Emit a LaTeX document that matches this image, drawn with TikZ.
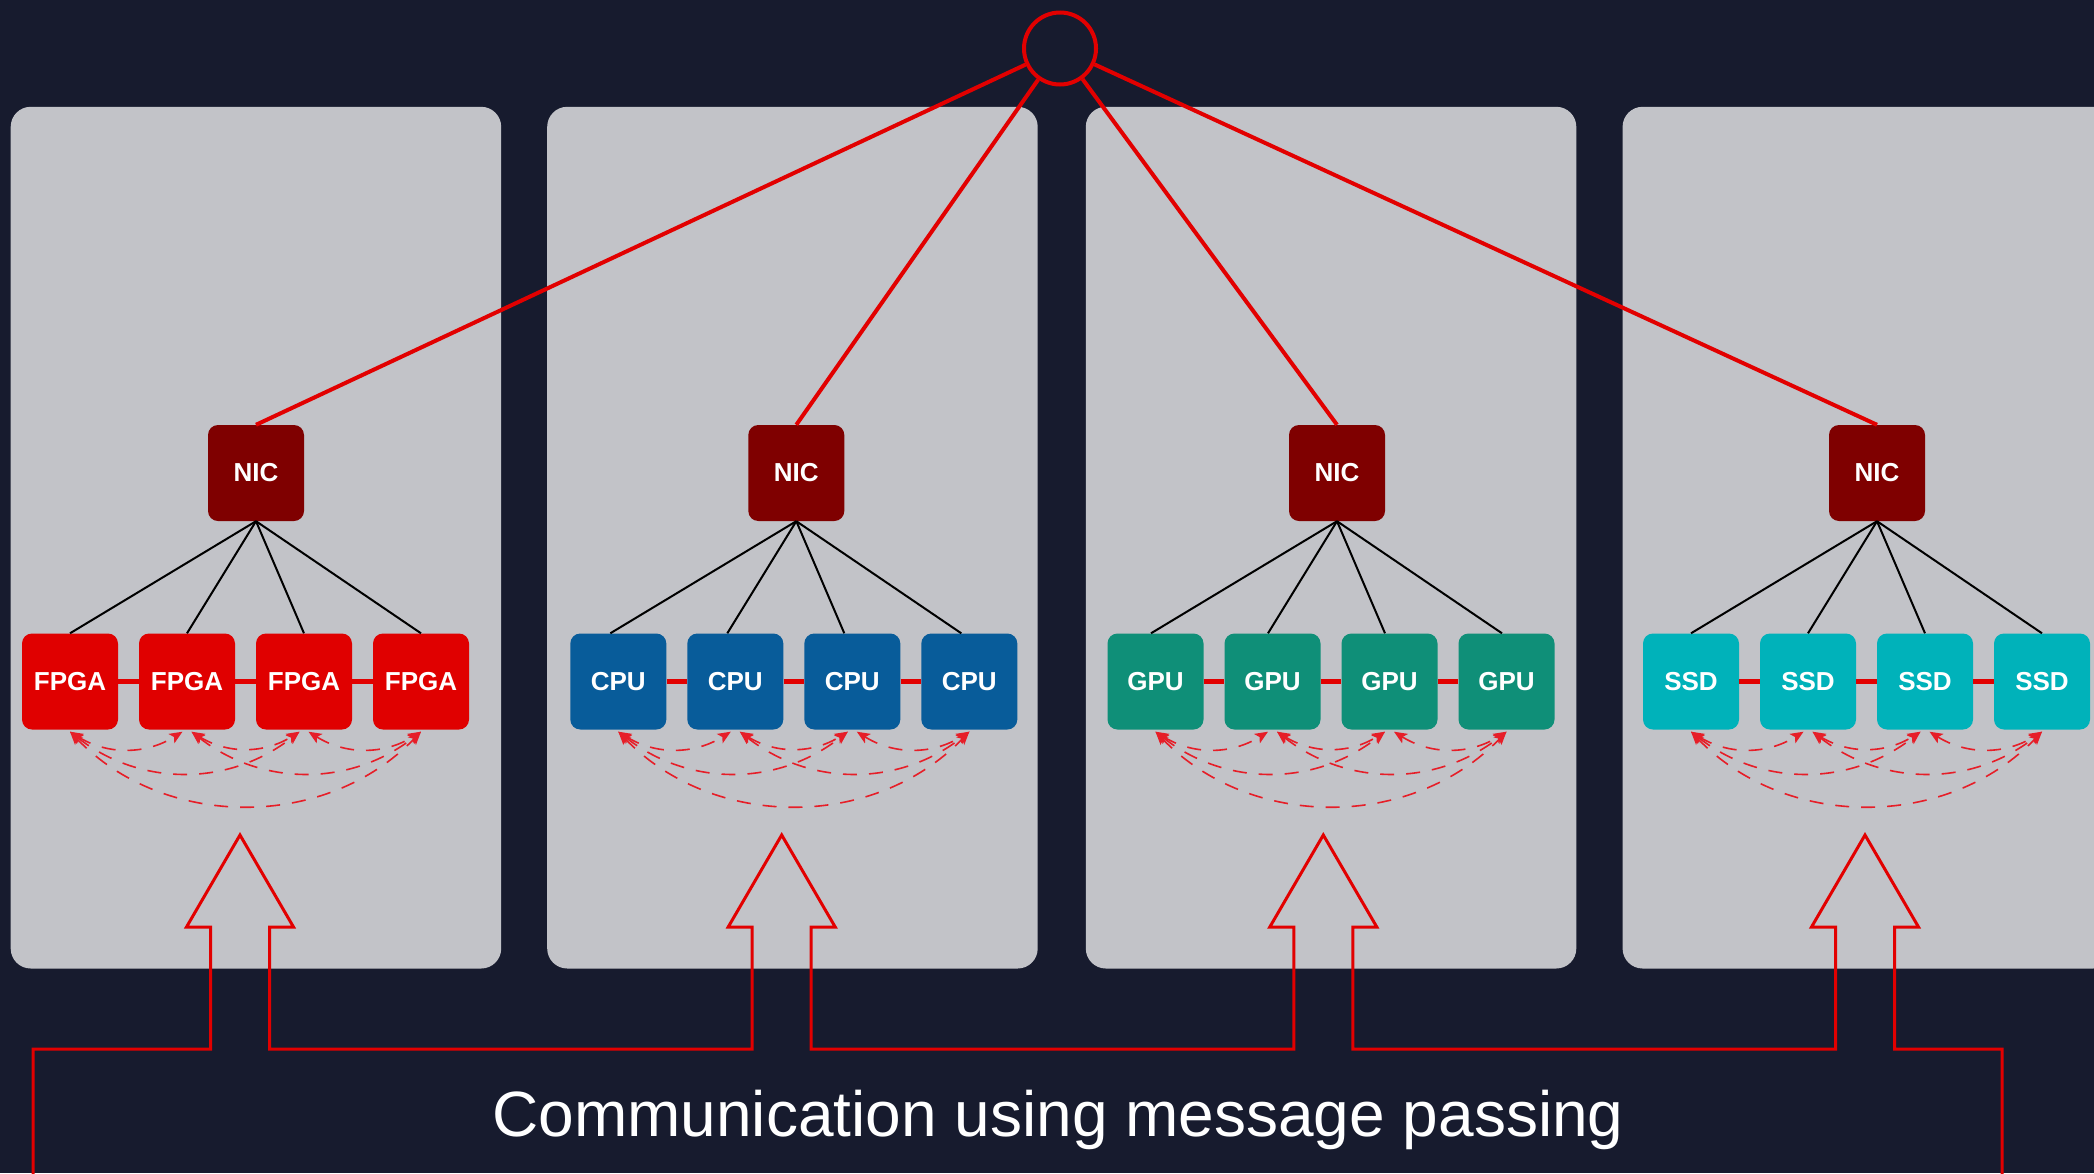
\documentclass[tikz,border=0pt]{standalone}
\usepackage{fontspec}
\setmainfont{Liberation Sans}
\usetikzlibrary{arrows.meta}

\definecolor{bgnavy}{RGB}{23,27,46}
\definecolor{panelgray}{RGB}{194,195,200}
\definecolor{nicred}{RGB}{127,0,0}
\definecolor{fpgared}{RGB}{224,0,0}
\definecolor{cpublue}{RGB}{8,92,154}
\definecolor{gpugreen}{RGB}{15,143,120}
\definecolor{ssdcyan}{RGB}{0,178,186}
\definecolor{linkred}{RGB}{226,0,0}
\definecolor{arcred}{RGB}{230,30,40}

\tikzset{
  panel/.style={fill=panelgray, rounded corners=20pt},
  nicbox/.style={rectangle, rounded corners=10pt, minimum size=96pt, inner sep=0pt,
    fill=nicred, text=white, font=\fontsize{26}{30}\selectfont\bfseries},
  leafbox/.style={rectangle, rounded corners=10pt, minimum width=96pt, minimum height=96pt,
    inner sep=0pt, text=white, font=\fontsize{26}{30}\selectfont\bfseries},
  hubring/.style={circle, draw=linkred, line width=4pt, minimum size=72pt, inner sep=0pt},
  uplink/.style={draw=linkred, line width=4pt},
  wire/.style={draw=black, line width=2pt},
  peerlink/.style={draw=linkred, line width=5pt},
  msgarc/.style={draw=arcred, line width=1.6pt, dash pattern=on 14pt off 12pt,
    {Stealth[length=13pt,width=11pt,inset=3pt]}-{Stealth[length=13pt,width=11pt,inset=3pt]}},
  bigarrow/.style={draw=linkred, line width=3pt},
}

\begin{document}
\begin{tikzpicture}[x=1pt, y=-1pt]
\useasboundingbox (0,0) rectangle (2094,1173);
\clip (0,0) rectangle (2094,1173);
\fill[bgnavy] (0,0) rectangle (2094,1173);

% machine panels
\foreach \px in {10.7,547.2,1085.8,1622.6}
  \fill[panel] (\px,106.8) rectangle ++(490.5,861.7);

% network hub
\node[hubring] (hub) at (1060,48.5) {};

% one node per panel: NIC with four attached devices
\foreach \g/\N/\s/\lab/\col in {1/256/0/FPGA/fpgared, 2/796.3/8/CPU/cpublue,
                                 3/1337/4.5/GPU/gpugreen, 4/1877/0/SSD/ssdcyan} {
  \node[nicbox] (nic\g) at (\N,473) {NIC};
  \draw[uplink] (hub) -- (nic\g.north);
  \foreach \k/\o in {1/-186,2/-69,3/48,4/165} {
    \node[leafbox, fill=\col] (u\g\k) at ({\N+\o+\s},681.5) {\lab};
    \draw[wire] (nic\g.south) -- ([xshift=-\s pt]u\g\k.north);
  }
  \draw[peerlink] (u\g1.east) -- (u\g2.west);
  \draw[peerlink] (u\g2.east) -- (u\g3.west);
  \draw[peerlink] (u\g3.east) -- (u\g4.west);
  % all-to-all message exchange between the devices
  \foreach \a/\b/\ang in {1/2/32, 2/3/32, 3/4/32, 1/3/38, 2/4/38, 1/4/46} {
    \pgfmathsetmacro\la{ifthenelse(\a==1,0,4.5)}
    \pgfmathsetmacro\rb{ifthenelse(\b==4,0,-4.5)}
    \draw[msgarc] ([xshift=\la pt, yshift=-2pt]u\g\a.south)
      to[bend right=\ang] ([xshift=\rb pt, yshift=-2pt]u\g\b.south);
  }
}

% message-passing layer feeding every panel
\draw[bigarrow] (33,1180) -- (33,1049)
  \foreach \t in {240,781.7,1323.3,1865} {
    -- ({\t-29.5},1049) -- ({\t-29.5},927) -- ({\t-53.5},927) -- (\t,835)
    -- ({\t+53.5},927) -- ({\t+29.5},927) -- ({\t+29.5},1049)
  }
  -- (2002,1049) -- (2002,1180);

\node[text=white, anchor=base, inner sep=0pt, font=\fontsize{64}{77}\selectfont]
  (caption) at (1058,1136) {Communication using message passing};
\end{tikzpicture}
\end{document}
